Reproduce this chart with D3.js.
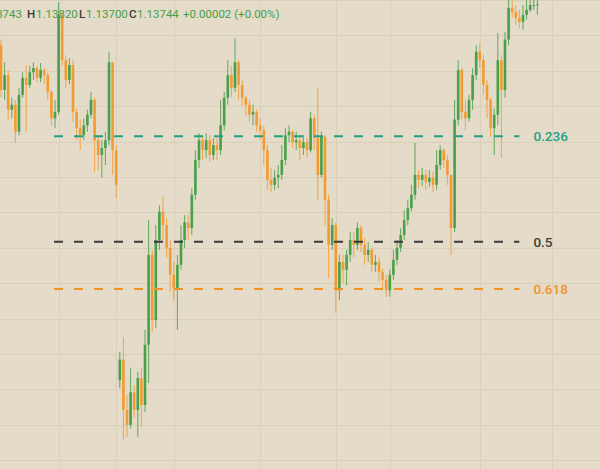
<!DOCTYPE html>
<html>
<head>
<meta charset="utf-8">
<script src="https://cdn.jsdelivr.net/npm/d3@7"></script>
<style>
  html, body { margin: 0; padding: 0; background: #e4dbc8; overflow: hidden; }
  svg { display: block; }
</style>
</head>
<body>
<svg id="chart"></svg>
<script>
// 1. Data (EURUSD-like candles)
const closes = [
  1.13623, 1.13644, 1.13595, 1.13602, 1.13564, 1.13616, 1.13640, 1.13630, 1.13648, 1.13654,
  1.13640, 1.13651, 1.13644, 1.13620, 1.13583, 1.13592, 1.13729, 1.13665, 1.13637, 1.13658,
  1.13592, 1.13569, 1.13559, 1.13573, 1.13588, 1.13609, 1.13552, 1.13531, 1.13541, 1.13552,
  1.13662, 1.13538, 1.13489, 1.13242, 1.13171, 1.13150, 1.13196, 1.13171, 1.13216, 1.13178,
  1.13263, 1.13390, 1.13298, 1.13411, 1.13451, 1.13432, 1.13400, 1.13362, 1.13343, 1.13376,
  1.13411, 1.13436, 1.13428, 1.13475, 1.13524, 1.13552, 1.13538, 1.13552, 1.13531, 1.13545,
  1.13538, 1.13573, 1.13612, 1.13644, 1.13626, 1.13662, 1.13630, 1.13612, 1.13602, 1.13588,
  1.13592, 1.13573, 1.13566, 1.13538, 1.13496, 1.13489, 1.13499, 1.13503, 1.13524, 1.13559,
  1.13564, 1.13549, 1.13552, 1.13541, 1.13549, 1.13538, 1.13583, 1.13555, 1.13503, 1.13557,
  1.13468, 1.13404, 1.13432, 1.13340, 1.13380, 1.13369, 1.13390, 1.13411, 1.13404, 1.13428,
  1.13404, 1.13390, 1.13397, 1.13376, 1.13380, 1.13366, 1.13355, 1.13340, 1.13362, 1.13383,
  1.13400, 1.13418, 1.13439, 1.13456, 1.13475, 1.13503, 1.13496, 1.13503, 1.13493, 1.13499,
  1.13489, 1.13517, 1.13538, 1.13524, 1.13503, 1.13428, 1.13581, 1.13651, 1.13592, 1.13583,
  1.13609, 1.13644, 1.13677, 1.13665, 1.13630, 1.13609, 1.13569, 1.13588, 1.13665, 1.13623,
  1.13694, 1.13739, 1.13733, 1.13725, 1.13719, 1.13729, 1.13736, 1.13743, 1.13743, 1.13744
];
const highs = [
  1.13694, 1.13662, 1.13651, 1.13612, 1.13609, 1.13626, 1.13648, 1.13658, 1.13657, 1.13662,
  1.13657, 1.13661, 1.13654, 1.13648, 1.13623, 1.13609, 1.13747, 1.13733, 1.13672, 1.13668,
  1.13665, 1.13597, 1.13581, 1.13583, 1.13595, 1.13620, 1.13612, 1.13559, 1.13552, 1.13564,
  1.13677, 1.13651, 1.13545, 1.13253, 1.13274, 1.13192, 1.13230, 1.13206, 1.13225, 1.13230,
  1.13284, 1.13439, 1.13397, 1.13432, 1.13460, 1.13472, 1.13442, 1.13411, 1.13380, 1.13390,
  1.13432, 1.13446, 1.13446, 1.13484, 1.13538, 1.13562, 1.13559, 1.13562, 1.13559, 1.13555,
  1.13555, 1.13609, 1.13620, 1.13665, 1.13657, 1.13696, 1.13665, 1.13637, 1.13614, 1.13609,
  1.13602, 1.13595, 1.13583, 1.13572, 1.13545, 1.13513, 1.13510, 1.13517, 1.13545, 1.13569,
  1.13573, 1.13566, 1.13564, 1.13559, 1.13559, 1.13555, 1.13592, 1.13588, 1.13626, 1.13564,
  1.13559, 1.13475, 1.13442, 1.13436, 1.13390, 1.13390, 1.13397, 1.13422, 1.13422, 1.13436,
  1.13432, 1.13414, 1.13408, 1.13400, 1.13390, 1.13386, 1.13371, 1.13362, 1.13369, 1.13397,
  1.13411, 1.13428, 1.13453, 1.13468, 1.13489, 1.13548, 1.13510, 1.13513, 1.13510, 1.13510,
  1.13507, 1.13538, 1.13545, 1.13541, 1.13531, 1.13482, 1.13609, 1.13665, 1.13654, 1.13609,
  1.13616, 1.13654, 1.13686, 1.13689, 1.13672, 1.13637, 1.13612, 1.13597, 1.13703, 1.13672,
  1.13705, 1.13750, 1.13750, 1.13743, 1.13736, 1.13743, 1.13750, 1.13753, 1.13753, 1.13760
];
const lows = [
  1.13613, 1.13609, 1.13581, 1.13583, 1.13548, 1.13559, 1.13612, 1.13564, 1.13626, 1.13637,
  1.13634, 1.13634, 1.13631, 1.13609, 1.13573, 1.13569, 1.13588, 1.13657, 1.13626, 1.13631,
  1.13578, 1.13552, 1.13538, 1.13552, 1.13564, 1.13583, 1.13507, 1.13510, 1.13499, 1.13517,
  1.13545, 1.13503, 1.13470, 1.13202, 1.13129, 1.13133, 1.13145, 1.13160, 1.13133, 1.13147,
  1.13168, 1.13209, 1.13281, 1.13287, 1.13397, 1.13411, 1.13386, 1.13338, 1.13326, 1.13284,
  1.13369, 1.13400, 1.13411, 1.13418, 1.13468, 1.13513, 1.13524, 1.13527, 1.13521, 1.13524,
  1.13524, 1.13531, 1.13566, 1.13602, 1.13613, 1.13620, 1.13609, 1.13600, 1.13586, 1.13578,
  1.13573, 1.13564, 1.13552, 1.13517, 1.13482, 1.13479, 1.13482, 1.13484, 1.13496, 1.13517,
  1.13549, 1.13541, 1.13538, 1.13524, 1.13531, 1.13528, 1.13535, 1.13538, 1.13468, 1.13499,
  1.13432, 1.13357, 1.13397, 1.13308, 1.13326, 1.13350, 1.13347, 1.13380, 1.13386, 1.13397,
  1.13394, 1.13376, 1.13380, 1.13366, 1.13366, 1.13352, 1.13340, 1.13331, 1.13331, 1.13355,
  1.13376, 1.13394, 1.13411, 1.13432, 1.13451, 1.13468, 1.13484, 1.13487, 1.13482, 1.13486,
  1.13479, 1.13482, 1.13510, 1.13513, 1.13489, 1.13390, 1.13422, 1.13573, 1.13581, 1.13566,
  1.13578, 1.13595, 1.13637, 1.13654, 1.13616, 1.13583, 1.13557, 1.13531, 1.13573, 1.13527,
  1.13612, 1.13686, 1.13725, 1.13715, 1.13710, 1.13708, 1.13722, 1.13733, 1.13736, 1.13729
];
const firstOpen = 1.13686;
// the session gap: this candle opens away from the previous close
const sessionOpens = { 33: 1.13213 };

const gridPrices = [1.1310, 1.1315, 1.1320, 1.1325, 1.1330, 1.1335, 1.1340,
                    1.1345, 1.1350, 1.1355, 1.1360, 1.1365, 1.1370, 1.1375];
const gridBars = [16, 32, 48, 72, 93, 108, 133, 153];

const fibLevels = [0.236, 0.5, 0.618];
const fibLabels = ["0.236", "0.5", "0.618"];
const fibColors = ["#22a084", "#3b3b3b", "#f0922c"];
const fibHigh = 1.13691;
const fibLow = 1.13126;
const fibFromBar = 15;
const fibToBar = 144;

const headerLabels = ["O", "H", "L", "C"];
const headerValues = ["1.13743", "1.13820", "1.13700", "1.13744"];
const headerChange = "+0.00002 (+0.00%)";

// 2. Setup
const W = 600, H = 469;
const svg = d3.select("#chart").attr("width", W).attr("height", H);

const candles = closes.map((c, i) => ({
  i: i,
  open: sessionOpens[i] !== undefined ? sessionOpens[i] : (i === 0 ? firstOpen : closes[i - 1]),
  close: c,
  high: highs[i],
  low: lows[i],
}));

const x = d3.scaleLinear().domain([0, closes.length - 1]).range([1, 537.4]);
const y = d3.scaleLinear().domain([1.130876, 1.1375]).range([H, 0]);

const upColor = "#48a04b";
const downColor = "#f39b33";

// background
svg.append("rect").attr("width", W).attr("height", H).attr("fill", "#e4dbc8");

// 3. Grid
const grid = svg.append("g");
grid.selectAll("line.h")
  .data(gridPrices)
  .enter()
  .append("line")
  .attr("x1", 0).attr("x2", W)
  .attr("y1", (d) => Math.round(y(d)) + 0.5)
  .attr("y2", (d) => Math.round(y(d)) + 0.5)
  .attr("stroke", "#d9cfba")
  .attr("stroke-width", 1);

grid.selectAll("line.v")
  .data(gridBars)
  .enter()
  .append("line")
  .attr("y1", 0).attr("y2", H)
  .attr("x1", (d) => Math.round(x(d)) + 0.5)
  .attr("x2", (d) => Math.round(x(d)) + 0.5)
  .attr("stroke", "#d9cfba")
  .attr("stroke-width", 1);

// 4. Candles
const bodyW = 2.6;
const g = svg.append("g");
const bars = g.selectAll("g.c").data(candles).enter().append("g");

bars.append("line")
  .attr("x1", (d) => x(d.i))
  .attr("x2", (d) => x(d.i))
  .attr("y1", (d) => y(d.high))
  .attr("y2", (d) => y(d.low))
  .attr("stroke", (d) => (d.close >= d.open ? upColor : downColor))
  .attr("stroke-width", 1)
  .attr("stroke-opacity", 0.85);

bars.append("rect")
  .attr("x", (d) => x(d.i) - bodyW / 2)
  .attr("y", (d) => y(Math.max(d.open, d.close)))
  .attr("width", bodyW)
  .attr("height", (d) => Math.max(1, Math.abs(y(d.open) - y(d.close))))
  .attr("fill", (d) => (d.close >= d.open ? upColor : downColor));

// 5. Fibonacci levels
const fib = svg.append("g");
fibLevels.forEach((lv, k) => {
  const py = y(fibHigh - lv * (fibHigh - fibLow));
  fib.append("line")
    .attr("x1", x(fibFromBar) - 1)
    .attr("x2", x(fibToBar))
    .attr("y1", py)
    .attr("y2", py)
    .attr("stroke", fibColors[k])
    .attr("stroke-width", 2)
    .attr("stroke-dasharray", "9,11");
  fib.append("text")
    .attr("x", x(fibToBar) + 14)
    .attr("y", py + 5)
    .attr("fill", fibColors[k])
    .attr("font-family", "Roboto, 'Open Sans', sans-serif")
    .attr("font-size", "13.5px")
    .attr("font-weight", 500)
    .text(fibLabels[k]);
});

// 6. Header (OHLC legend, cut off at the left edge)
const labelX = [-29, 27, 79, 129];
const valueX = [22, 36, 86, 137];
const hdr = svg.append("g")
  .attr("font-family", "Roboto, 'Open Sans', sans-serif")
  .attr("font-size", "11.5px");

headerLabels.forEach((lab, k) => {
  hdr.append("text")
    .attr("x", labelX[k])
    .attr("y", 18)
    .attr("fill", "#3a3a3a")
    .attr("font-weight", 500)
    .text(lab);
  hdr.append("text")
    .attr("x", valueX[k])
    .attr("y", 18)
    .attr("text-anchor", k === 0 ? "end" : "start")
    .attr("fill", "#4a9e4a")
    .text(headerValues[k]);
});
hdr.append("text")
  .attr("x", 183)
  .attr("y", 18)
  .attr("fill", "#4a9e4a")
  .text(headerChange);
</script>
</body>
</html>
